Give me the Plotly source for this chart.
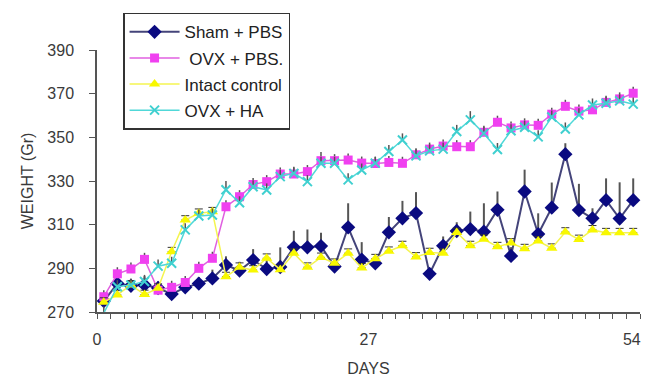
import plotly.graph_objects as go

# measurement index (40 weighings over 54 days)
idx = list(range(40))
day_tick_pos = [-0.5, 19.5, 38.9]
day_tick_text = ["0", "27", "54"]
y_ticks = [270, 290, 310, 330, 350, 370, 390]

sham = [275, 283, 282, 282.4, 281, 278.2, 281.3, 283, 285.4, 291.5,
        289, 293.8, 289.7, 290.6, 299.6, 299.6, 300.2, 290.8, 308.8, 294.0,
        292.3, 306.5, 312.9, 315.3, 287.5, 300.3, 307.1, 308.0, 306.8, 316.8,
        295.7, 325.2, 305.7, 317.8, 342.3, 316.7, 312.9, 321.2, 312.8, 321.2]
sham_err = [3, 3, 3, 4, 3, 3, 3, 3, 4, 4,
            4, 5, 4, 9, 7.6, 8.2, 6.1, 3, 11, 8,
            3, 7, 8, 9.6, 2, 4.3, 4, 8, 13, 8.4,
            4, 10, 9.5, 11.5, 5, 12, 4.6, 10, 16.6, 10]

ovx_pbs = [277, 287.5, 289.7, 294.1, 280, 281.3, 283.5, 290, 294.6, 318.2,
           322.8, 328.4, 329.7, 333.2, 333.2, 334.3, 339.3, 339.3, 339.6, 338.2,
           338.0, 338.5, 338.1, 342.0, 344.6, 346.0, 345.7, 345.7, 352.3, 356.9,
           354.3, 355.7, 355.5, 360.6, 364.2, 362.0, 362.6, 366.0, 367.6, 370.2]
ovx_pbs_err = [3, 3, 3, 3, 3, 3, 3, 3, 3, 3,
               3, 3, 3, 3, 3, 3, 4, 3, 3, 3,
               3, 3, 3, 3, 3, 3, 3, 3, 3, 3,
               3, 3, 3, 3, 3, 3, 3, 3, 3, 3]

intact = [274.5, 277.8, 282.4, 278, 280.9, 297.6, 312.1, 315.2, 315.9, 286.2,
          290.5, 289.2, 294.6, 289.4, 296.9, 290.5, 295.0, 292.3, 296.9, 290.2,
          294.4, 297.8, 300.4, 295.2, 297.2, 296.9, 306.4, 300.4, 303.3, 299.9,
          301.6, 299.0, 302.5, 299.2, 306.6, 303.2, 307.6, 306.3, 306.3, 306.3]
intact_err = [2, 2, 2, 2, 2, 2, 2, 2, 2, 2,
              2, 2, 2, 2, 2, 2, 2, 2, 2, 2,
              2, 2, 2, 2, 2, 2, 2, 2, 2, 2,
              2, 2, 2, 2, 2, 2, 2, 2, 2, 2]

ovx_ha = [269.5, 281.6, 282.4, 284, 291, 292.3, 307.6, 314, 314.4, 326,
          320, 327.4, 325.9, 332, 333.5, 329.7, 338.1, 338.1, 330.5, 335,
          338.2, 343.5, 348.8, 341.5, 343.8, 344.6, 352.7, 358, 351.8, 344.4,
          353, 354.6, 350.2, 359.3, 353.8, 360.3, 364.8, 365.6, 366.7, 365.2]
ovx_ha_err = [3, 3, 3, 3, 3, 3, 3, 3, 3, 4,
              3, 3, 3, 3, 3, 3, 3, 3, 3, 3,
              3, 3, 3, 3, 3, 3, 3, 4, 3, 3,
              3, 3, 3, 3, 3, 3, 3, 3, 3, 3]

FONT = "Liberation Sans, Arial, sans-serif"
TXT = "#3a3a3a"

def err(vals, color, width, thick):
    return dict(type="data", symmetric=False, array=vals,
                arrayminus=[0] * len(vals), color=color,
                thickness=thick, width=width)

fig = go.Figure()
fig.add_trace(go.Scatter(
    x=idx, y=sham, name="Sham + PBS", mode="lines+markers", legendgroup="a",
    line=dict(color="#44447a", width=2),
    marker=dict(symbol="diamond", size=11, color="#0a0a80"),
    error_y=err(sham_err, "#555555", 0, 2), cliponaxis=False))
fig.add_trace(go.Scatter(
    x=idx, y=ovx_pbs, name=" OVX + PBS.", mode="lines+markers", legendgroup="b",
    line=dict(color="#e060e0", width=1.5),
    marker=dict(symbol="square", size=9, color="#f040f0"),
    error_y=err(ovx_pbs_err, "#555555", 0, 1.5), cliponaxis=False))
fig.add_trace(go.Scatter(
    x=idx, y=intact, name="Intact control", mode="lines+markers", legendgroup="c",
    line=dict(color="#f4f450", width=1.5),
    marker=dict(symbol="triangle-up", size=10, color="#f8f800"),
    error_y=err(intact_err, "#333333", 4, 1), cliponaxis=False))
fig.add_trace(go.Scatter(
    x=idx, y=ovx_ha, name="OVX + HA", mode="lines+markers", legendgroup="d",
    line=dict(color="#50d8d8", width=1.5),
    marker=dict(symbol="x-thin", size=9, color="#40d0d0",
                line=dict(color="#40d0d0", width=2)),
    error_y=err(ovx_ha_err, "#555555", 0, 1.5), cliponaxis=False))

fig.update_layout(
    width=647, height=377,
    margin=dict(l=97, r=7, t=50, b=65),
    paper_bgcolor="white", plot_bgcolor="white",
    font=dict(family=FONT, size=16, color=TXT),
    showlegend=True,
    legend=dict(x=0.048, y=1.142, xanchor="left", yanchor="top",
                bordercolor="#333333", borderwidth=1.5, bgcolor="white",
                font=dict(family=FONT, size=17, color="#222222"),
                tracegroupgap=1, itemwidth=50),
    xaxis=dict(range=[-0.5, 39.5], showgrid=False, zeroline=False,
               automargin=False,
               showline=True, linecolor="#555555", linewidth=1.5,
               tickmode="array", tickvals=day_tick_pos, ticktext=day_tick_text,
               ticks="", ticklabelstandoff=12,
               tickfont=dict(size=16, color=TXT),
               minor=dict(tickvals=[v - 0.5 for v in range(41)], ticks="outside",
                          ticklen=5, tickcolor="#555555", tickwidth=1),
               title=dict(text="DAYS", font=dict(size=16, color=TXT),
                          standoff=17)),
    yaxis=dict(range=[270, 390], showgrid=False, zeroline=False,
               automargin=False,
               showline=True, linecolor="#555555", linewidth=1.5,
               tickmode="array", tickvals=y_ticks,
               ticks="outside", ticklen=6, tickcolor="#555555",
               ticklabelstandoff=12, tickfont=dict(size=16, color=TXT),
               title=dict(text="WEIGHT (Gr)", font=dict(size=16, color=TXT),
                          standoff=10)),
)

fig.write_html("out.html")
